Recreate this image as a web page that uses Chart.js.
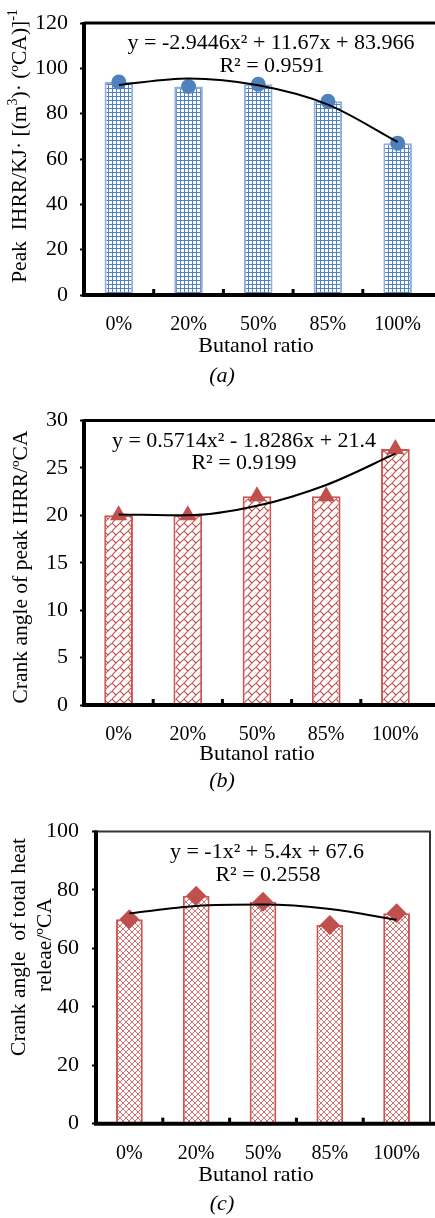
<!DOCTYPE html>
<html><head><meta charset="utf-8">
<script src="https://cdn.jsdelivr.net/npm/chart.js@4"></script>
<style>
html,body{margin:0;padding:0;background:#fff;overflow:hidden;width:435px;height:1218px;}
.box{position:absolute;left:0;width:440px;}
canvas{display:block;}
</style></head><body>
<div class="box" style="top:0px"><canvas id="ca" width="440" height="395"></canvas></div>
<div class="box" style="top:395px"><canvas id="cb" width="440" height="405"></canvas></div>
<div class="box" style="top:800px"><canvas id="cc" width="440" height="418"></canvas></div>
<script>
// ---------- data ----------
const categories = ['0%', '20%', '50%', '85%', '100%'];
const peakIHRR = [94, 92, 93, 85.5, 67];
const peakIHRRTrend = [92.7, 95.5, 92.5, 84, 67.5];
const peakAngle = [20, 20, 22, 22, 27];
const peakAngleTrend = [20.1, 20.0, 21.0, 23.2, 26.5];
const totalAngle = [70, 78, 76, 68, 72];
const totalAngleTrend = [72, 74.5, 75, 73.5, 69.8];
const yTicksA = {min: 0, max: 120, step: 20};
const yTicksB = {min: 0, max: 30, step: 5};
const yTicksC = {min: 0, max: 100, step: 20};

const FONT = "'Liberation Serif', 'Times New Roman', serif";
Chart.defaults.font.family = FONT;
Chart.defaults.color = '#000';

function makePattern(kind, color) {
  const c = document.createElement('canvas');
  const g = c.getContext('2d');
  if (kind === 'grid') {
    c.width = 4; c.height = 4;
    g.fillStyle = '#fff'; g.fillRect(0, 0, 4, 4);
    g.fillStyle = color; g.fillRect(0, 0, 4, 1); g.fillRect(0, 0, 1, 4);
  } else if (kind === 'brick') {
    c.width = 8; c.height = 8;
    g.fillStyle = '#fff'; g.fillRect(0, 0, 8, 8);
    g.strokeStyle = color; g.lineWidth = 1.1;
    g.beginPath();
    g.moveTo(-1, 9); g.lineTo(9, -1);
    g.moveTo(0, 0); g.lineTo(4, 4);
    g.stroke();
  } else {
    c.width = 6; c.height = 6;
    g.fillStyle = '#fff'; g.fillRect(0, 0, 6, 6);
    g.strokeStyle = color; g.lineWidth = 1;
    g.beginPath();
    g.moveTo(-1, -1); g.lineTo(7, 7);
    g.moveTo(-1, 7); g.lineTo(7, -1);
    g.stroke();
  }
  return g.createPattern(c, 'repeat');
}

function drawRich(ctx, segs, cx, cy, size, rot, italic) {
  ctx.save();
  ctx.translate(cx, cy);
  if (rot) ctx.rotate(-Math.PI / 2);
  const style = italic ? 'italic ' : '';
  let total = 0;
  const ws = segs.map(s => {
    const sz = s[1] ? size * 0.65 : size;
    ctx.font = style + sz + 'px ' + FONT;
    const w = ctx.measureText(s[0]).width;
    total += w; return w;
  });
  let x = -total / 2;
  ctx.textBaseline = 'middle';
  ctx.textAlign = 'left';
  ctx.fillStyle = '#000';
  segs.forEach((s, i) => {
    const sz = s[1] ? size * 0.65 : size;
    ctx.font = style + sz + 'px ' + FONT;
    ctx.fillText(s[0], x, s[1] ? -size * 0.3 : 0);
    x += ws[i];
  });
  ctx.restore();
}

const deco = {
  id: 'deco',
  afterDatasetsDraw(chart, args, o) {
    const ctx = chart.ctx, a = chart.chartArea, xs = chart.scales.x;
    ctx.save();
    ctx.strokeStyle = o.frameColor; ctx.lineWidth = o.frameWidth;
    ctx.beginPath();
    ctx.moveTo(a.left, a.top);
    ctx.lineTo(o.rightBorder ? a.right : chart.width, a.top);
    if (o.rightBorder) ctx.lineTo(a.right, a.bottom);
    ctx.stroke();
    ctx.strokeStyle = '#000'; ctx.lineWidth = 4;
    ctx.beginPath();
    ctx.moveTo(a.left, a.top - 1);
    ctx.lineTo(a.left, a.bottom);
    ctx.lineTo(chart.width, a.bottom);
    ctx.stroke();
    ctx.fillStyle = '#000';
    const n = chart.data.labels.length;
    for (let i = 1; i < n; i++) {
      const x = (xs.getPixelForValue(i - 1) + xs.getPixelForValue(i)) / 2;
      ctx.fillRect(x - 1.5, a.bottom - 6, 3, 6);
    }
    ctx.restore();
  },
  afterDraw(chart, args, o) {
    const ctx = chart.ctx;
    o.texts.forEach(t => drawRich(ctx, t.segs, t.x, t.y, t.size, t.rot, t.italic));
  }
};

function build(id, opt) {
  const ctx = document.getElementById(id).getContext('2d');
  const H = ctx.canvas.height;
  return new Chart(ctx, {
    data: {
      labels: categories,
      datasets: [
        {
          type: 'line', data: opt.trend, borderColor: '#000', borderWidth: 2,
          pointRadius: 0, cubicInterpolationMode: 'monotone', order: 0
        },
        {
          type: 'line', data: opt.values, showLine: false,
          pointStyle: opt.marker, pointRadius: opt.markerRadius,
          pointBackgroundColor: opt.markerColor, pointBorderColor: opt.markerColor,
          pointBorderWidth: 0, order: 1
        },
        {
          type: 'bar', data: opt.values, backgroundColor: opt.pattern,
          borderColor: opt.barBorder, borderWidth: opt.barBorderWidth,
          barPercentage: opt.barPct, categoryPercentage: 1, order: 2
        }
      ]
    },
    options: {
      responsive: false, animation: false, devicePixelRatio: 1,
      layout: {padding: {top: opt.top, right: opt.right, left: 0, bottom: 0}},
      plugins: {
        legend: {display: false}, tooltip: {enabled: false},
        deco: opt.deco
      },
      scales: {
        x: {
          type: 'category', offset: true,
          grid: {display: false}, border: {display: false},
          ticks: {font: {size: 20}, padding: opt.xPad, color: '#000', maxRotation: 0},
          afterFit: s => { s.height = H - opt.bottom; }
        },
        y: {
          min: opt.yt.min, max: opt.yt.max,
          grid: {drawOnChartArea: false, drawTicks: true, tickLength: 4, tickWidth: 2, tickColor: '#000'},
          border: {display: false},
          ticks: {stepSize: opt.yt.step, font: {size: 22, lineHeight: 1}, padding: opt.yPad, color: '#000'},
          afterFit: s => { s.width = opt.left; }
        }
      }
    },
    plugins: [deco]
  });
}

build('ca', {
  values: peakIHRR, trend: peakIHRRTrend, yt: yTicksA,
  pattern: makePattern('grid', '#4f81bd'), barBorder: '#8fb0da', barBorderWidth: 2, barPct: 0.41,
  marker: 'circle', markerRadius: 7.5, markerColor: '#4f81bd',
  top: 12, right: 3, bottom: 295, left: 84, xPad: 10, yPad: 12,
  deco: {
    frameColor: '#000', frameWidth: 3, rightBorder: false,
    texts: [
      {segs: [['y = -2.9446x² + 11.67x + 83.966']], x: 271, y: 43, size: 22},
      {segs: [['R² = 0.9591']], x: 272, y: 66, size: 22},
      {segs: [['Butanol ratio']], x: 256, y: 346, size: 22},
      {segs: [['(a)']], x: 222, y: 376, size: 22, italic: true},
      {segs: [['Peak  IHRR/KJ· [(m'], ['3', 1], [')· (ºCA)]'], ['-1', 1]], x: 20, y: 146, size: 21.5, rot: true}
    ]
  }
});

build('cb', {
  values: peakAngle, trend: peakAngleTrend, yt: yTicksB,
  pattern: makePattern('brick', '#c0504d'), barBorder: '#cd5552', barBorderWidth: 2, barPct: 0.415,
  marker: 'triangle', markerRadius: 10, markerColor: '#c0504d',
  top: 25.5, right: 3, bottom: 310, left: 84, xPad: 10, yPad: 12,
  deco: {
    frameColor: '#000', frameWidth: 3, rightBorder: false,
    texts: [
      {segs: [['y = 0.5714x² - 1.8286x + 21.4']], x: 244, y: 46, size: 22},
      {segs: [['R² = 0.9199']], x: 244, y: 68, size: 22},
      {segs: [['Butanol ratio']], x: 257, y: 359, size: 22},
      {segs: [['(b)']], x: 222, y: 386, size: 22, italic: true},
      {segs: [['Crank angle of peak IHRR/ºCA']], x: 21, y: 172, size: 21.5, rot: true}
    ]
  }
});

build('cc', {
  values: totalAngle, trend: totalAngleTrend, yt: yTicksC,
  pattern: makePattern('cross', '#d4706d'), barBorder: '#cd5552', barBorderWidth: 2, barPct: 0.4,
  marker: 'rectRot', markerRadius: 10, markerColor: '#c0504d',
  top: 31.5, right: 6, bottom: 323.7, left: 96, xPad: 10, yPad: 13,
  deco: {
    frameColor: '#333', frameWidth: 2, rightBorder: true,
    texts: [
      {segs: [['y = -1x² + 5.4x + 67.6']], x: 267, y: 52, size: 22},
      {segs: [['R² = 0.2558']], x: 268, y: 75, size: 22},
      {segs: [['Butanol ratio']], x: 256, y: 375, size: 22},
      {segs: [['(c)']], x: 222, y: 404, size: 22, italic: true},
      {segs: [['Crank angle  of total heat']], x: 19, y: 147, size: 21.5, rot: true},
      {segs: [['releae/ºCA']], x: 45, y: 145, size: 21.5, rot: true}
    ]
  }
});
</script>
</body></html>
